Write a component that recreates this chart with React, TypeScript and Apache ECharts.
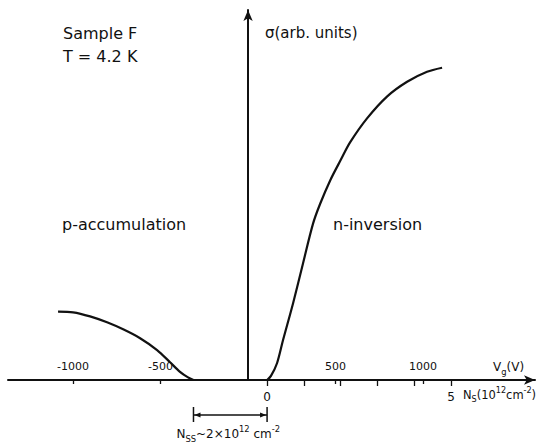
import React, { useEffect, useRef } from "react";
import * as echarts from "echarts";

// Gate voltage axis (V)
const vgTickValues = [-1000, -500, 500, 1000];
// Carrier density axis (10^12 cm^-2)
const nsTickValues = [0, 1, 2, 3, 4, 5];
const nsLabelValues = [0, 5];
// Surface-state density bracket (10^12 cm^-2)
const nssStart = -2;
const nssEnd = 0;

// sigma (arb. units) vs Vg (V)
const pAccumulation: [number, number][] = [
  [-1086, 18.5], [-1000, 18.3], [-903, 17.2], [-806, 15.6], [-714, 13.7],
  [-617, 11.3], [-520, 8.1], [-446, 4.8], [-389, 2.2], [-343, 0.7], [-312, 0],
];
const nInversion: [number, number][] = [
  [109, 0], [131, 1.1], [166, 4.6], [200, 10.8], [257, 20.7], [314, 31.5],
  [371, 42.2], [411, 47.5], [470, 54], [530, 59.5], [583, 64.2], [680, 70.7],
  [794, 76.6], [909, 80.6], [1023, 83.3], [1109, 84.4],
];

const INK = "#111";
const FONT = '"DejaVu Sans", "Noto Sans", sans-serif';

export default function App() {
  const ref = useRef<HTMLDivElement>(null);
  useEffect(() => {
    document.body.style.margin = "0";
    const chart = echarts.init(ref.current!, undefined, { renderer: "svg" });
    const lineSeries = (name: string, data: [number, number][]) => ({
      name,
      type: "line",
      data,
      smooth: 0.3,
      showSymbol: false,
      xAxisIndex: 0,
      yAxisIndex: 0,
      lineStyle: { color: INK, width: 2.2 },
      silent: true,
    });
    chart.setOption({
      animation: false,
      backgroundColor: "#fff",
      textStyle: { fontFamily: FONT },
      grid: { left: 8, right: 1, top: 10, bottom: 63 },
      xAxis: [
        {
          type: "value",
          min: -1372,
          max: 1640,
          position: "bottom",
          axisLine: {
            onZero: true,
            symbol: ["none", "arrow"],
            symbolSize: [7, 11],
            lineStyle: { color: INK, width: 2 },
          },
          axisTick: {
            show: true,
            inside: false,
            length: 4,
            customValues: vgTickValues,
            lineStyle: { color: INK, width: 1.3 },
          },
          axisLabel: {
            inside: true,
            customValues: vgTickValues,
            formatter: (v: number) => String(v),
            fontSize: 11,
            color: INK,
            margin: 8,
            fontFamily: FONT,
          },
          splitLine: { show: false },
        },
        {
          type: "value",
          min: -7.04,
          max: 7.28,
          position: "bottom",
          axisLine: { show: false, onZero: false },
          axisTick: {
            show: true,
            inside: false,
            length: 6,
            customValues: nsTickValues,
            lineStyle: { color: INK, width: 1.3 },
          },
          axisLabel: {
            customValues: nsLabelValues,
            formatter: (v: number) => String(v),
            fontSize: 12,
            color: INK,
            margin: 11,
            fontFamily: FONT,
          },
          splitLine: { show: false },
        },
      ],
      yAxis: {
        type: "value",
        min: 0,
        max: 100,
        axisLine: {
          show: true,
          onZero: true,
          onZeroAxisIndex: 0,
          symbol: ["none", "arrow"],
          symbolSize: [7, 11],
          lineStyle: { color: INK, width: 2 },
        },
        axisTick: { show: false },
        axisLabel: { show: false },
        splitLine: { show: false },
      },
      series: [lineSeries("p-accumulation", pAccumulation), lineSeries("n-inversion", nInversion)],
    });

    const x0 = chart.convertToPixel({ xAxisIndex: 1 }, nssStart) as number;
    const x1 = chart.convertToPixel({ xAxisIndex: 1 }, nssEnd) as number;
    const by = 415;
    const txt = (text: string, x: number, y: number, size: number, align = "left") => ({
      type: "text",
      x,
      y,
      silent: true,
      style: {
        text,
        fill: INK,
        font: `${size}px ${FONT}`,
        align,
        verticalAlign: "middle",
      },
    });
    const richText = (text: string, x: number, y: number, size: number, align = "left") => ({
      type: "text",
      x,
      y,
      silent: true,
      style: {
        text,
        fill: INK,
        align,
        verticalAlign: "middle",
        rich: {
          n: { fontSize: size, fontFamily: FONT, fill: INK, lineHeight: size + 6, verticalAlign: "middle" },
          sub: { fontSize: size * 0.7, fontFamily: FONT, fill: INK, lineHeight: size + 6, verticalAlign: "bottom" },
          sup: { fontSize: size * 0.7, fontFamily: FONT, fill: INK, lineHeight: size + 6, verticalAlign: "top" },
        },
      },
    });
    chart.setOption({
      graphic: [
        txt("Sample F", 63, 33, 16),
        txt("T = 4.2 K", 63, 56, 16),
        txt("σ(arb. units)", 265, 33, 15),
        txt("p-accumulation", 62, 224, 16),
        txt("n-inversion", 333, 224, 16),
        richText("{n|V}{sub|g}{n|(V)}", 493, 367, 12),
        richText("{n|N}{sub|S}{n|(10}{sup|12}{n|cm}{sup|-2}{n|)}", 463, 395, 11.5),
        // N_ss bracket
        { type: "line", silent: true, shape: { x1: x0, y1: by, x2: x1, y2: by }, style: { stroke: INK, lineWidth: 1.5 } },
        { type: "line", silent: true, shape: { x1: x0, y1: by - 8, x2: x0, y2: by + 7 }, style: { stroke: INK, lineWidth: 1.5 } },
        { type: "line", silent: true, shape: { x1: x1, y1: by - 8, x2: x1, y2: by + 7 }, style: { stroke: INK, lineWidth: 1.5 } },
        { type: "polygon", silent: true, shape: { points: [[x0 + 1, by], [x0 + 7, by - 2.5], [x0 + 7, by + 2.5]] }, style: { fill: INK } },
        { type: "polygon", silent: true, shape: { points: [[x1 - 1, by], [x1 - 7, by - 2.5], [x1 - 7, by + 2.5]] }, style: { fill: INK } },
        richText("{n|N}{sub|SS}{n|~2×10}{sup|12}{n| cm}{sup|-2}", (x0 + x1) / 2 - 2, 434, 12, "center"),
      ],
    });
    return () => chart.dispose();
  }, []);
  return (
    <div
      ref={ref}
      style={{ position: "fixed", left: 0, top: 0, width: 536, height: 443, background: "#fff" }}
    />
  );
}
